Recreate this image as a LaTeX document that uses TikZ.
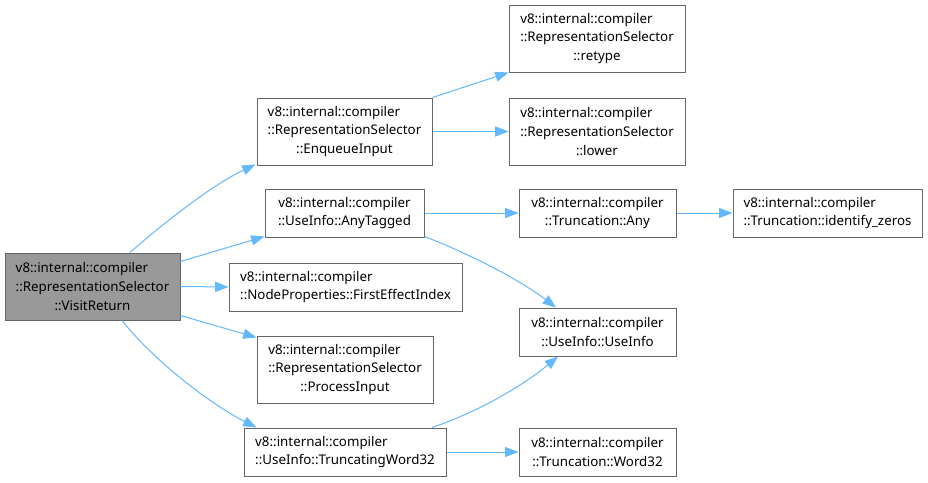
\documentclass[tikz,border=0pt]{standalone}
\usepackage{fontspec}
\setmainfont{Noto Sans}
\usetikzlibrary{arrows.meta,calc}
\definecolor{edgeblue}{HTML}{63B8FF}
\definecolor{nodeborder}{HTML}{666666}
\definecolor{curfill}{HTML}{999999}
\newlength\firstlw
\newcommand\lfirst[2]{\settowidth\firstlw{#2}\makebox[\firstlw][l]{#1}\\#2}
\begin{document}
\begin{tikzpicture}[x=0.75pt,y=-0.75pt,
  nd/.style={draw=nodeborder, fill=white, line width=0.75pt, inner sep=0pt, align=center,
    font=\fontsize{10pt}{14pt}\selectfont},
  cur/.style={nd, fill=curfill},
  sz/.style 2 args={minimum width=#1*0.75pt, minimum height=#2*0.75pt},
  edge/.style={draw=edgeblue, line width=0.75pt, -{Triangle[length=10pt,width=7.5pt,fill=edgeblue]}}
]
\useasboundingbox[fill=white] (0,0) rectangle (928,482);

\node[cur, sz={175}{67}] (vr) at (92.5,286.5) {\lfirst{v8::internal::compiler}{::RepresentationSelector}\\::VisitReturn};
\node[nd, sz={175}{67}] (enq) at (344.5,131.5) {\lfirst{v8::internal::compiler}{::RepresentationSelector}\\::EnqueueInput};
\node[nd, sz={176}{67}] (ret) at (597,38.5) {\lfirst{v8::internal::compiler}{::RepresentationSelector}\\::retype};
\node[nd, sz={176}{67}] (low) at (597,131.5) {\lfirst{v8::internal::compiler}{::RepresentationSelector}\\::lower};
\node[nd, sz={159}{48}] (anyt) at (344.5,213) {v8::internal::compiler\\::UseInfo::AnyTagged};
\node[nd, sz={233}{48}] (fei) at (345.5,287) {\lfirst{v8::internal::compiler}{::NodeProperties::FirstEffectIndex}};
\node[nd, sz={176}{67}] (proc) at (345,369.5) {\lfirst{v8::internal::compiler}{::RepresentationSelector}\\::ProcessInput};
\node[nd, sz={202}{48}] (tw32) at (345,452) {\lfirst{v8::internal::compiler}{::UseInfo::TruncatingWord32}};
\node[nd, sz={157}{48}] (tany) at (597.5,213) {v8::internal::compiler\\::Truncation::Any};
\node[nd, sz={189}{48}] (idz) at (827.5,213) {\lfirst{v8::internal::compiler}{::Truncation::identify\_zeros}};
\node[nd, sz={157}{48}] (use) at (597.5,332) {v8::internal::compiler\\::UseInfo::UseInfo};
\node[nd, sz={157}{48}] (w32) at (597.5,452) {v8::internal::compiler\\::Truncation::Word32};

\draw[edge] ($(vr.north)+(37.5,0)$) .. controls (165,222) and (212,185) .. ($(enq.south west)+(-1,-1)$);
\draw[edge] ($(vr.north east)+(0,9)$) -- ($(anyt.south west)+(0,-1)$);
\draw[edge] (vr.east) -- (fei.west);
\draw[edge] ($(vr.south east)+(0,-5)$) -- ($(proc.north west)+(0,2)$);
\draw[edge] ($(vr.south)+(29.5,0)$) .. controls (155,362) and (212,405) .. ($(tw32.north west)+(13,0)$);
\draw[edge] (enq.north east) -- (ret.south west);
\draw[edge] (enq.east) -- (low.west);
\draw[edge] (anyt.east) -- (tany.west);
\draw[edge] ($(anyt.south east)+(0,-1)$) .. controls (470,254) and (520,280) .. ($(use.north)+(-41.5,0)$);
\draw[edge] (tany.east) -- (idz.west);
\draw[edge] ($(tw32.north)+(87,0)$) .. controls (475,413) and (520,388) .. ($(use.south)+(-39.5,0)$);
\draw[edge] (tw32.east) -- (w32.west);
\end{tikzpicture}
\end{document}
